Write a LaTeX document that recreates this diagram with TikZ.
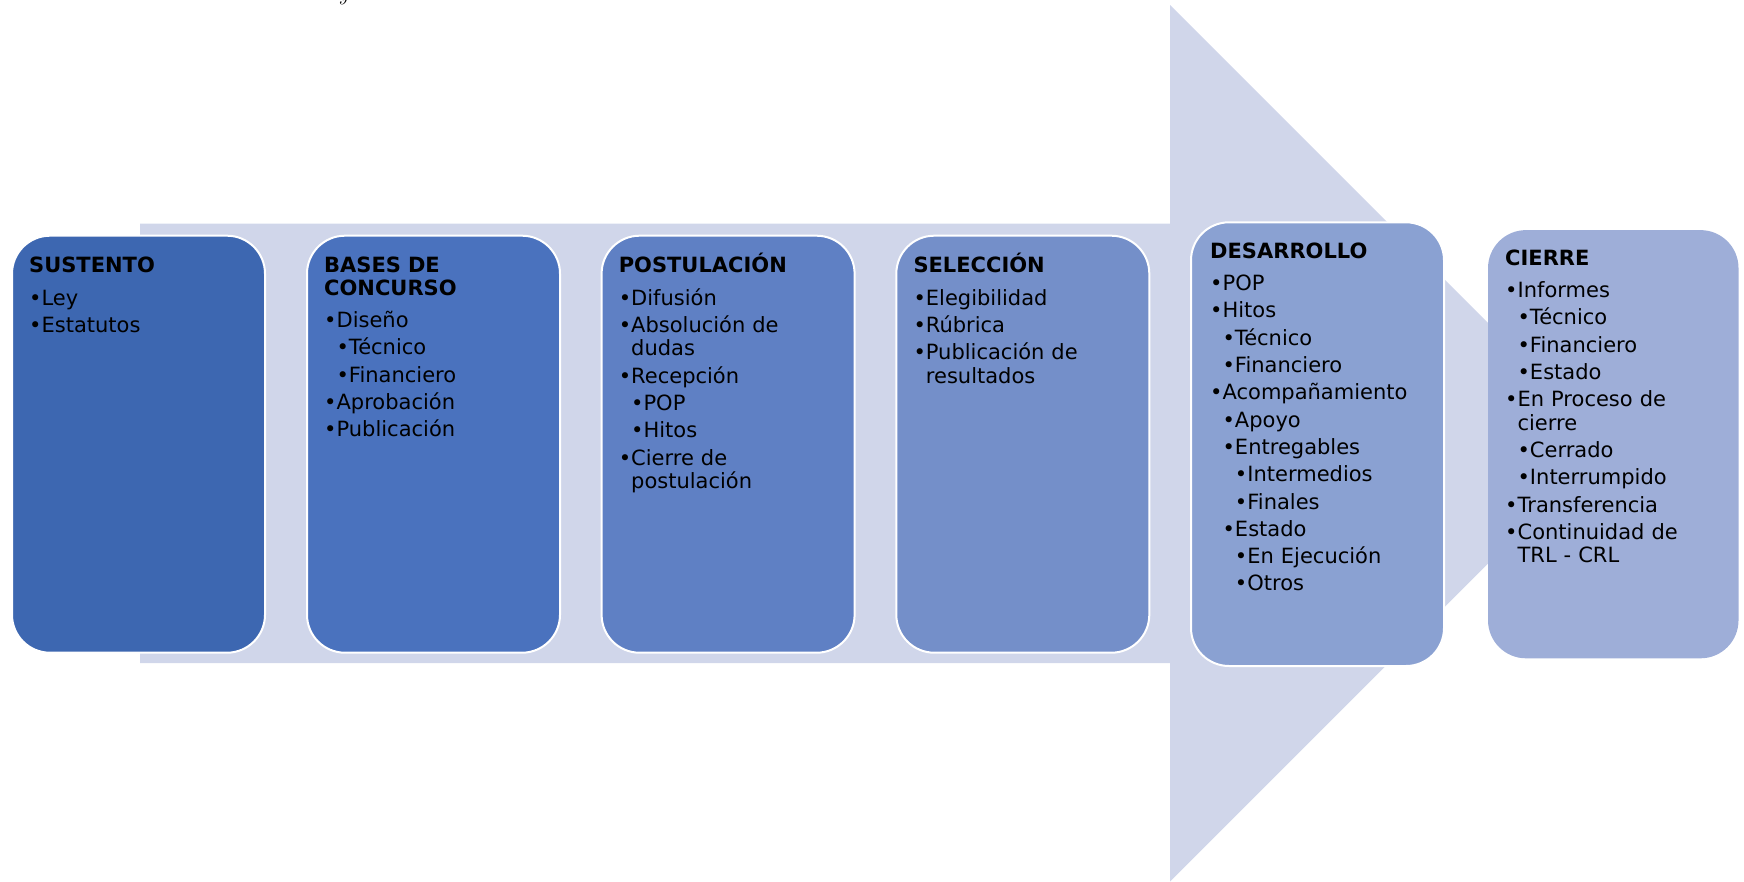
\documentclass[tikz,border=0pt]{standalone}
\usepackage{fontspec}
\newfontfamily\verd{DejaVu Sans}
\usetikzlibrary{calc}

\definecolor{arrowfill}{RGB}{208,214,234}
\definecolor{stepA}{RGB}{61,103,177}
\definecolor{stepB}{RGB}{74,114,190}
\definecolor{stepC}{RGB}{95,128,196}
\definecolor{stepD}{RGB}{116,143,201}
\definecolor{stepE}{RGB}{138,161,210}
\definecolor{stepF}{RGB}{158,174,216}

% bullets at three indentation levels, and a continuation line
\newcommand\bA[1]{\textbullet#1}
\newcommand\bB[1]{\phantom{\textbullet}\textbullet#1}
\newcommand\bC[1]{\phantom{\textbullet\textbullet}\textbullet#1}
\newcommand\cont[1]{\phantom{\textbullet}#1}
\newcommand\ttl[1]{\textbf{#1}}

\tikzset{
  stagebox/.style={rectangle, rounded corners=38pt, anchor=north west,
    draw=white, line width=2pt, minimum width=253pt, inner sep=0pt},
  stagetext/.style={anchor=base west, text width=232pt, align=left,
    inner sep=0pt, font=\verd\fontsize{21}{23.5}\selectfont},
}

\begin{document}
\begin{tikzpicture}[x=1pt,y=-1pt]
\useasboundingbox (0,0) rectangle (1744,881);

% fragment of a line of text above the figure
\node[anchor=base, inner sep=0pt, font=\itshape\fontsize{22}{24}\selectfont] (ytop) at (343,0.5) {y};

% large background arrow
\fill[arrowfill] (140,223.5) -- (1170,223.5) -- (1170,5) -- (1608.3,443.3)
  -- (1170,881.6) -- (1170,663) -- (140,663) -- cycle;

% stage boxes
\node[stagebox, fill=stepA, minimum height=417pt] (b1) at (11,234.7) {};
\node[stagebox, fill=stepB, minimum height=417pt] (b2) at (306,234.7) {};
\node[stagebox, fill=stepC, minimum height=417pt] (b3) at (600.6,234.7) {};
\node[stagebox, fill=stepD, minimum height=417pt] (b4) at (895.3,234.7) {};
\node[stagebox, fill=stepE, minimum height=443.7pt] (b5) at (1190,221.3) {};
\node[stagebox, fill=stepF, draw=none, minimum width=250.5pt, minimum height=428.2pt] (b6) at (1487,229.1) {};

% stage contents
\node[stagetext] (t1) at ($(b1.north west)+(18,38)$) {%
\ttl{SUSTENTO}\\[8.8pt]
\bA{Ley}\\[3.8pt]
\bA{Estatutos}};

\node[stagetext] (t2) at ($(b2.north west)+(18,38)$) {%
\ttl{BASES DE}\\[-1pt]
\ttl{CONCURSO}\\[8.8pt]
\bA{Diseño}\\[3.8pt]
\bB{Técnico}\\[3.8pt]
\bB{Financiero}\\[3.8pt]
\bA{Aprobación}\\[3.8pt]
\bA{Publicación}};

\node[stagetext] (t3) at ($(b3.north west)+(18,38)$) {%
\ttl{POSTULACIÓN}\\[8.8pt]
\bA{Difusión}\\[3.8pt]
\bA{Absolución de}\\
\cont{dudas}\\[3.8pt]
\bA{Recepción}\\[3.8pt]
\bB{POP}\\[3.8pt]
\bB{Hitos}\\[3.8pt]
\bA{Cierre de}\\
\cont{postulación}};

\node[stagetext] (t4) at ($(b4.north west)+(18,38)$) {%
\ttl{SELECCIÓN}\\[8.8pt]
\bA{Elegibilidad}\\[3.8pt]
\bA{Rúbrica}\\[3.8pt]
\bA{Publicación de}\\
\cont{resultados}};

\node[stagetext] (t5) at ($(b5.north west)+(20,37)$) {%
\ttl{DESARROLLO}\\[8.8pt]
\bA{POP}\\[3.8pt]
\bA{Hitos}\\[3.8pt]
\bB{Técnico}\\[3.8pt]
\bB{Financiero}\\[3.8pt]
\bA{Acompañamiento}\\[3.8pt]
\bB{Apoyo}\\[3.8pt]
\bB{Entregables}\\[3.8pt]
\bC{Intermedios}\\[3.8pt]
\bC{Finales}\\[3.8pt]
\bB{Estado}\\[3.8pt]
\bC{En Ejecución}\\[3.8pt]
\bC{Otros}};

\node[stagetext] (t6) at ($(b6.north west)+(18,36)$) {%
\ttl{CIERRE}\\[8.8pt]
\bA{Informes}\\[3.8pt]
\bB{Técnico}\\[3.8pt]
\bB{Financiero}\\[3.8pt]
\bB{Estado}\\[3.8pt]
\bA{En Proceso de}\\
\cont{cierre}\\[3.8pt]
\bB{Cerrado}\\[3.8pt]
\bB{Interrumpido}\\[3.8pt]
\bA{Transferencia}\\[3.8pt]
\bA{Continuidad de}\\
\cont{TRL - CRL}};
\end{tikzpicture}
\end{document}
